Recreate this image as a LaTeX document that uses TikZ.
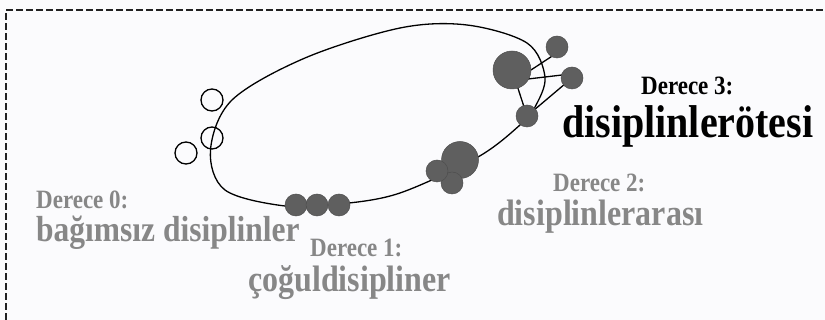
\documentclass[tikz,border=0pt]{standalone}
\usepackage{fontspec}
\setmainfont{Liberation Serif}
\definecolor{bgc}{HTML}{FBFBFD}
\definecolor{framec}{HTML}{222222}
\definecolor{dotc}{HTML}{5F5F5F}
\definecolor{dotedge}{HTML}{4E4E4E}
\definecolor{grayt}{HTML}{878787}
\newcommand{\tallt}[1]{\scalebox{1}[1.15]{#1}}
\tikzset{
  dot/.style={circle, fill=dotc, draw=dotedge, line width=0.5pt, inner sep=0pt, minimum size=#1},
  dot/.default=22pt,
  ring/.style={circle, draw=black, line width=1.3pt, inner sep=0pt, minimum size=22pt},
  link/.style={draw=black, line width=1.3pt},
  lbl/.style={anchor=base west, inner sep=0pt, font=\bfseries},
}
\begin{document}
\begin{tikzpicture}[x=1pt,y=-1pt]
\useasboundingbox (0,0) rectangle (825,320);
\fill[bgc] (0,0) rectangle (825,320);
\draw[framec, line width=2pt, dash pattern=on 7pt off 3pt] (6,330) -- (6,10) -- (830,10);

% main closed curve
\draw[black, line width=1.3pt] plot[smooth cycle, tension=0.55] coordinates {
 (535,107) (545,77) (527,43) (467,25) (400,28) (305,58) (232,100) (210.5,150)
 (225,190) (285,206) (340,204) (400,193) (478,157) (520,125)};

% open circles
\node[ring] (o1) at (212,100) {};
\node[ring] (o2) at (212,138) {};
\node[ring] (o3) at (186,153) {};

% degree 3 cluster: links first
\coordinate (bigc) at (512,70);
\coordinate (topc) at (557,47);
\coordinate (rgtc) at (572,78);
\coordinate (botc) at (527,116);
\draw[link] (531,70) -- (551.5,56.5);
\draw[link] (528,79) -- (562,75);
\draw[link] (bigc) -- (botc);
\draw[link] (botc) -- (rgtc);
\node[dot=38pt] (big) at (bigc) {};
\node[dot] (top) at (topc) {};
\node[dot] (rgt) at (rgtc) {};
\node[dot] (bot) at (botc) {};

% degree 2 cluster
\node[dot=37pt] (m1) at (460,160) {};
\node[dot] (m3) at (452,183) {};
\node[dot] (m2) at (437,171) {};

% degree 1 chain
\node[dot] (c1) at (296,205) {};
\node[dot] (c2) at (317,205) {};
\node[dot] (c3) at (339,205) {};

% labels
\node[lbl, grayt, font=\bfseries\fontsize{23}{27}\selectfont] (d0) at (36,209) {\tallt{Derece 0:}};
\node[lbl, grayt, font=\bfseries\fontsize{31.5}{36}\selectfont] (t0) at (36,242) {\tallt{bağımsız disiplinler}};
\node[lbl, grayt, font=\bfseries\fontsize{23}{27}\selectfont] (d1) at (310,257) {\tallt{Derece 1:}};
\node[lbl, grayt, font=\bfseries\fontsize{32}{36}\selectfont] (t1) at (248,292) {\tallt{çoğuldisipliner}};
\node[lbl, grayt, font=\bfseries\fontsize{23}{27}\selectfont] (d2) at (553,192) {\tallt{Derece 2:}};
\node[lbl, grayt, font=\bfseries\fontsize{32}{36}\selectfont] (t2) at (497,226) {\tallt{disiplinlerarası}};
\node[lbl, black, font=\bfseries\fontsize{23}{27}\selectfont] (d3) at (641,95) {\tallt{Derece 3:}};
\node[lbl, black, font=\bfseries\fontsize{40}{44}\selectfont] (t3) at (562,138) {\tallt{disiplinlerötesi}};
\end{tikzpicture}
\end{document}
